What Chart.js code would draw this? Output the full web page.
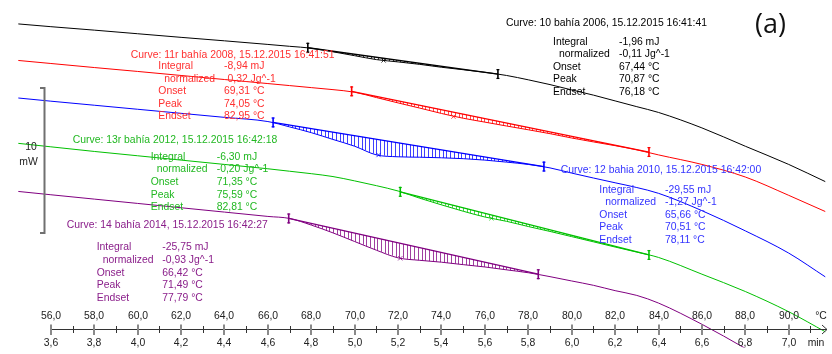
<!DOCTYPE html>
<html><head><meta charset="utf-8">
<script src="https://cdn.jsdelivr.net/npm/chart.js@4"></script>
<style>html,body{margin:0;padding:0;background:#fff;overflow:hidden}#wrap{width:832px;height:354px;position:relative}</style>
</head><body><div id="wrap"><canvas id="c" width="832" height="354"></canvas></div>
<script>
// ---- data (temperature in °C, heat flow in mW) ----
const temps = [54.5,56,58,60,62,64,66,67,68,69,70,71,72,73,74,75,76,77,78,79,80,81,82,83,84,86,88,90,91.7];
const curve10  = [-1.20,-1.39,-1.63,-1.88,-2.13,-2.37,-2.62,-2.75,-2.88,-3.13,-3.40,-3.67,-3.83,-4.00,-4.20,-4.37,-4.55,-4.77,-5.07,-5.40,-5.77,-6.13,-6.53,-6.93,-7.33,-8.40,-9.67,-10.93,-12.13];
const curve11r = [-3.73,-3.94,-4.22,-4.49,-4.77,-5.05,-5.33,-5.47,-5.61,-5.75,-5.93,-6.30,-6.67,-7.03,-7.40,-7.73,-8.00,-8.27,-8.53,-8.80,-9.10,-9.37,-9.63,-9.92,-10.27,-10.93,-11.80,-13.07,-14.20];
const curve12  = [-6.33,-6.55,-6.83,-7.11,-7.39,-7.67,-7.96,-8.33,-8.73,-9.20,-9.67,-10.27,-10.40,-10.43,-10.47,-10.53,-10.63,-10.77,-10.93,-11.17,-11.53,-11.87,-12.20,-12.53,-12.93,-14.13,-15.53,-17.07,-18.73];
const curve13r = [-9.47,-9.71,-10.03,-10.33,-10.63,-10.93,-11.23,-11.40,-11.57,-11.77,-12.07,-12.40,-12.77,-13.27,-13.73,-14.17,-14.57,-14.87,-15.23,-15.57,-15.93,-16.29,-16.65,-17.00,-17.37,-18.53,-19.73,-21.13,-22.53];
const curve14  = [-12.80,-13.03,-13.33,-13.63,-13.93,-14.23,-14.53,-14.67,-15.13,-15.67,-16.27,-16.87,-17.40,-17.57,-17.70,-17.87,-18.03,-18.23,-18.43,-18.70,-19.00,-19.30,-19.67,-20.00,-20.53,-22.00,-23.67,-25.47,-27.00];
const curves = [curve10, curve11r, curve12, curve13r, curve14];

// integration limits and baseline ends
const limStart  = [67.84, 69.86, 66.24, 72.10, 66.96];
const limStartY = [-2.85, -5.87, -8.02, -12.83, -14.67];
const limEnd    = [76.60, 83.56, 78.72, 83.56, 78.46];
const limEndY   = [-4.67, -10.07, -11.08, -17.20, -18.53];
const peakT = [71.33, 74.55, 71.10, 76.30, 72.10];
const peakY = [-3.73, -7.62, -10.28, -14.66, -17.43];

// annotation texts
const titles = ['Curve: 10 bahía 2006, 15.12.2015 16:41:41','Curve: 11r bahía 2008, 15.12.2015 16:41:51','Curve: 12 bahia 2010, 15.12.2015 16:42:00','Curve: 13r bahía 2012, 15.12.2015 16:42:18','Curve: 14 bahía 2014, 15.12.2015 16:42:27'];
const integrals  = ['-1,96 mJ','-8,94 mJ','-29,55 mJ','-6,30 mJ','-25,75 mJ'];
const normalized = ['-0,11 Jg^-1','-0,32 Jg^-1','-1,27 Jg^-1','-0,20 Jg^-1','-0,93 Jg^-1'];
const onsets  = ['67,44 °C','69,31 °C','65,66 °C','71,35 °C','66,42 °C'];
const peaks   = ['70,87 °C','74,05 °C','70,51 °C','75,59 °C','71,49 °C'];
const endsets = ['76,18 °C','82,95 °C','78,11 °C','82,81 °C','77,79 °C'];
const rowNames = ['Integral','normalized','Onset','Peak','Endset'];

// axis ticks
const tempTicks  = [56,58,60,62,64,66,68,70,72,74,76,78,80,82,84,86,88,90];
const tempLabels = ['56,0','58,0','60,0','62,0','64,0','66,0','68,0','70,0','72,0','74,0','76,0','78,0','80,0','82,0','84,0','86,0','88,0','90,0'];
const timeLabels = ['3,6','3,8','4,0','4,2','4,4','4,6','4,8','5,0','5,2','5,4','5,6','5,8','6,0','6,2','6,4','6,6','6,8','7,0'];
const minorTicks = [57,59,61,63,65,67,69,71,73,75,77,79,81,83,85,87,89,91];
const scaleBarTop = -5.67, scaleBarSpan = 10;

// ---- styles ----
const lineColors = ['#000000','#ff0000','#0000ff','#00c000','#800080'];
const hatchColors = ['rgba(0,0,0,0.75)','rgba(255,0,0,0.7)','rgba(0,0,255,0.75)','rgba(0,192,0,0.7)','rgba(128,0,128,0.75)'];
const textColors = ['#000000','#ff3030','#3535ff','#22b822','#8a1e8a'];
const layout = [
  {tx:506, ty:22.7, lx:553, vx:619, r0:41.7, dy:12.6},
  {tx:130.7, ty:55.3, lx:158.3, vx:224, r0:66, dy:12.65},
  {tx:560.7, ty:170, lx:599.3, vx:665, r0:190, dy:12.5},
  {tx:72.7, ty:140.3, lx:150.7, vx:216.7, r0:156.7, dy:12.65},
  {tx:66.7, ty:225.3, lx:96.7, vx:162.3, r0:247.3, dy:12.7}
];
const FONT = '10.4px "Liberation Sans", Arial, sans-serif';

const datasets = [];
curves.forEach((c,k)=>{
  datasets.push({data: temps.map((t,i)=>({x:t,y:c[i]})), borderColor: lineColors[k], borderWidth:1, pointRadius:0, cubicInterpolationMode:'monotone', fill:false});
});
curves.forEach((c,k)=>{
  datasets.push({data: [{x:limStart[k],y:limStartY[k]},{x:limEnd[k],y:limEndY[k]}], borderColor: lineColors[k], borderWidth:1.3, pointRadius:0, fill:false});
});
curves.forEach((c,k)=>{
  datasets.push({data: [{x:limStart[k],y:limStartY[k]},{x:limEnd[k],y:limEndY[k]}], showLine:false, pointStyle:'line', rotation:90, pointRadius:5, pointBorderWidth:1.6, pointBorderColor: lineColors[k], pointBackgroundColor: lineColors[k]});
});
curves.forEach((c,k)=>{
  datasets.push({data: [{x:peakT[k],y:peakY[k]}], showLine:false, pointStyle:'crossRot', pointRadius:3, pointBorderWidth:1, pointBorderColor: hatchColors[k]});
});

function interp(xs, ys, t){
  for(let i=0;i<xs.length-1;i++){
    if(t>=xs[i] && t<=xs[i+1]){ return ys[i] + (ys[i+1]-ys[i])*(t-xs[i])/(xs[i+1]-xs[i]); }
  }
  return ys[ys.length-1];
}

const hatchPlugin = {id:'hatch', afterDatasetsDraw(chart){
  const ctx=chart.ctx, xs=chart.scales.x, ys=chart.scales.y;
  ctx.save(); ctx.lineWidth=1;
  curves.forEach((c,k)=>{
    ctx.strokeStyle = hatchColors[k];
    const step = 0.17;
    for(let t=limStart[k]+step; t<limEnd[k]-0.05; t+=step){
      const yc = interp(temps, c, t);
      const yb = limStartY[k] + (limEndY[k]-limStartY[k])*(t-limStart[k])/(limEnd[k]-limStart[k]);
      const px = Math.round(xs.getPixelForValue(t))+0.5;
      const p1 = ys.getPixelForValue(yb), p2 = ys.getPixelForValue(yc);
      if(Math.abs(p2-p1) < 1) continue;
      ctx.beginPath(); ctx.moveTo(px,p1); ctx.lineTo(px,p2); ctx.stroke();
    }
    // small flags on limit markers
    ctx.fillStyle = lineColors[k];
    [[limStart[k],limStartY[k]],[limEnd[k],limEndY[k]]].forEach(([t,v])=>{
      const px = xs.getPixelForValue(t), py = ys.getPixelForValue(v);
      ctx.fillRect(px-1.5, py-5, 3, 1.2);
      ctx.fillRect(px-1.5, py+3.8, 3, 1.2);
    });
  });
  ctx.restore();
}};

const decoPlugin = {id:'deco', afterDraw(chart){
  const ctx=chart.ctx, xs=chart.scales.x, ys=chart.scales.y;
  ctx.save();
  // annotation blocks
  ctx.font = FONT; ctx.textBaseline='middle'; ctx.textAlign='left';
  layout.forEach((L,k)=>{
    ctx.fillStyle = textColors[k];
    ctx.fillText(titles[k], L.tx, L.ty);
    const vals = [integrals[k], normalized[k], onsets[k], peaks[k], endsets[k]];
    rowNames.forEach((n,r)=>{
      const y = L.r0 + r*L.dy;
      ctx.fillText(n, L.lx + (r===1?6:0), y);
      ctx.fillText(vals[r], L.vx, y);
    });
  });
  // axis
  const ay = 329.5;
  const x0 = xs.getPixelForValue(56);
  ctx.strokeStyle='#333'; ctx.lineWidth=1;
  ctx.beginPath(); ctx.moveTo(x0, ay); ctx.lineTo(827, ay); ctx.stroke();
  ctx.beginPath(); ctx.moveTo(822, ay-4.5); ctx.lineTo(827, ay); ctx.lineTo(822, ay+4.5); ctx.stroke();
  minorTicks.forEach(t=>{
    const px = Math.round(xs.getPixelForValue(t))+0.5;
    ctx.strokeStyle='#333'; ctx.lineWidth=1;
    ctx.beginPath(); ctx.moveTo(px, ay-3.5); ctx.lineTo(px, ay+3.5); ctx.stroke();
  });
  tempTicks.forEach((t,i)=>{
    const px = Math.round(xs.getPixelForValue(t));
    ctx.strokeStyle='#8a8a8a'; ctx.lineWidth=2;
    ctx.beginPath(); ctx.moveTo(px, ay-5); ctx.lineTo(px, ay+5.5); ctx.stroke();
    ctx.fillStyle='#222'; ctx.textAlign='center';
    ctx.fillText(tempLabels[i], px, 316);
    ctx.fillText(timeLabels[i], px, 343.5);
  });
  ctx.textAlign='center'; ctx.fillStyle='#222';
  ctx.fillText('°C', 821, 316);
  ctx.fillText('min', 816, 343.5);
  // scale bar
  const yt = Math.round(ys.getPixelForValue(scaleBarTop)), yb = Math.round(ys.getPixelForValue(scaleBarTop - scaleBarSpan));
  ctx.strokeStyle='#707070'; ctx.lineWidth=2;
  ctx.beginPath(); ctx.moveTo(40, yt); ctx.lineTo(44.5, yt); ctx.lineTo(44.5, yb); ctx.lineTo(40, yb); ctx.stroke();
  ctx.fillStyle='#222'; ctx.textAlign='center';
  ctx.fillText('10', 31, 147);
  ctx.fillText('mW', 28.5, 162);
  // panel label
  ctx.font = '27px "Open Sans", "Liberation Sans", sans-serif';
  ctx.textAlign='left'; ctx.fillStyle='#111';
  ctx.fillText('(a)', 755, 25);
  ctx.restore();
}};

new Chart(document.getElementById('c'), {
  type:'line',
  data:{datasets},
  options:{
    responsive:false, animation:false, devicePixelRatio:1, events:[],
    layout:{padding:0},
    scales:{
      x:{type:'linear', min:53.96, max:91.69, display:false},
      y:{type:'linear', min:-23.6, max:0, display:false}
    },
    plugins:{legend:{display:false}, tooltip:{enabled:false}}
  },
  plugins:[hatchPlugin, decoPlugin]
});
</script>
</body></html>
